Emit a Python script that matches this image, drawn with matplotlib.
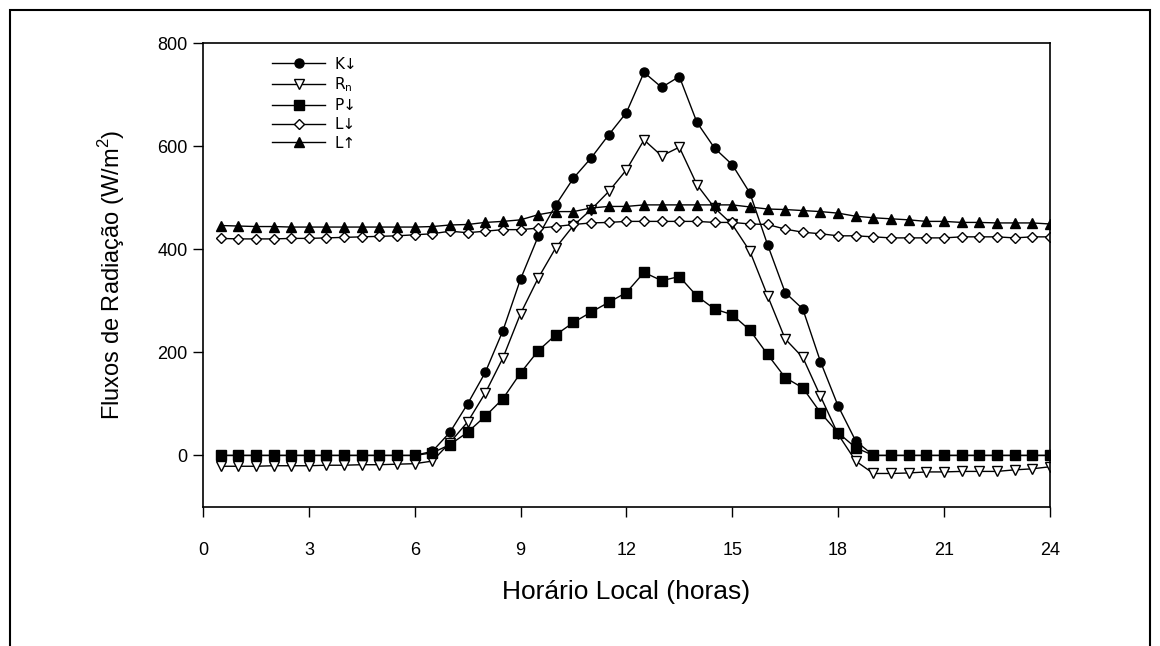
import matplotlib.pyplot as plt
import numpy as np
from matplotlib.patches import Rectangle

plt.rcParams['font.family'] = ['Liberation Sans', 'DejaVu Sans']

horas = np.arange(0.5, 24.01, 0.5)

# K↓ global
k_down = [0, 0, 0, 0, 0, 0, 0, 0, 0, 0, 0, 0, 8,
          45, 100, 161, 242, 342, 425, 486, 538, 577, 622, 665,
          743, 714, 735, 646, 596, 564, 509, 409, 316, 284, 182,
          96, 28, 0, 0, 0, 0, 0, 0, 0, 0, 0, 0, 0]
# Rn saldo
r_n = [-21, -21, -21, -20, -20, -20, -19, -19, -18, -18, -17, -16, -11,
       25, 65, 121, 189, 275, 344, 403, 446, 477, 512, 554,
       612, 581, 598, 525, 480, 448, 396, 310, 226, 190, 115,
       41, -11, -35, -35, -34, -32, -32, -31, -31, -31, -28, -26, -22]
# P↓
p_down = [0, 0, 0, 0, 0, 0, 0, 0, 0, 0, 0, 0, 5,
          21, 45, 76, 110, 160, 203, 234, 258, 278, 297, 316,
          355, 339, 347, 309, 284, 273, 243, 196, 151, 131, 83,
          44, 15, 0, 0, 0, 0, 0, 0, 0, 0, 0, 0, 0]
# L↓
l_down = [421, 420, 420, 420, 421, 421, 422, 423, 424, 425, 426, 428, 430,
          435, 432, 435, 438, 438, 441, 444, 448, 451, 452, 454,
          454, 454, 454, 454, 452, 452, 449, 448, 439, 433, 430,
          426, 426, 424, 422, 422, 422, 422, 424, 424, 424, 422, 424, 424]
# L↑
l_up = [446, 445, 444, 444, 443, 443, 443, 443, 443, 443, 443, 443, 444,
        447, 448, 452, 454, 457, 467, 473, 473, 480, 483, 483,
        486, 486, 486, 486, 486, 486, 482, 478, 477, 475, 473,
        470, 464, 461, 459, 457, 454, 454, 452, 452, 451, 451, 451, 449]

fig = plt.figure(figsize=(11.6, 6.46), dpi=100)
ax = fig.add_axes([0.175, 0.2152, 0.730, 0.7182])

kw = dict(color='k', lw=1, markeredgecolor='k', markeredgewidth=1)
ax.plot(horas, k_down, marker='o', markersize=6.5, markerfacecolor='k', label='K↓', **kw)
ax.plot(horas, r_n, marker='v', markersize=6.5, markerfacecolor='white', label=r'R$_\mathregular{n}$', **kw)
ax.plot(horas, p_down, marker='s', markersize=6.5, markerfacecolor='k', label='P↓', **kw)
ax.plot(horas, l_down, marker='D', markersize=5.5, markerfacecolor='white', label='L↓', **kw)
ax.plot(horas, l_up, marker='^', markersize=6.5, markerfacecolor='k', label='L↑', **kw)

ax.set_xlim(0, 24)
ax.set_ylim(-100, 800)
ax.set_xticks(np.arange(0, 25, 3))
ax.set_yticks([0, 200, 400, 600, 800])
ax.tick_params(direction='out', length=7, width=1, labelsize=13)
ax.tick_params(axis='x', pad=18)
ax.tick_params(axis='y', pad=4)
for s in ax.spines.values():
    s.set_linewidth(1.2)

ax.set_xlabel('Horário Local (horas)', fontsize=19, labelpad=15)
ax.set_ylabel('Fluxos de Radiação (W/m$^\\mathregular{2}$)', fontsize=17, labelpad=22)

leg = ax.legend(loc='upper left', bbox_to_anchor=(0.065, 1.0), frameon=False,
                prop={'family': 'DejaVu Sans', 'size': 11},
                handlelength=3.5, labelspacing=0.25, handletextpad=0.6)

fig.patches.append(Rectangle((10 / 1160, -0.01), 1140 / 1160, 1 - 10 / 646 + 0.01,
                             transform=fig.transFigure, fill=False, lw=1.5, ec='k'))

fig.savefig('out.png', dpi=100)
